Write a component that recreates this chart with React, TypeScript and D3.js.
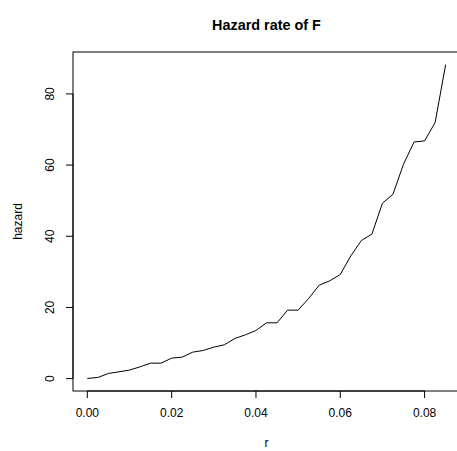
import React from "react";
import * as d3 from "d3";

const rValues = [
  0, 0.0025, 0.005, 0.0075, 0.01, 0.0125, 0.015, 0.0175, 0.02, 0.0225,
  0.025, 0.0275, 0.03, 0.0325, 0.035, 0.0375, 0.04, 0.0425, 0.045, 0.0475,
  0.05, 0.0525, 0.055, 0.0575, 0.06, 0.0625, 0.065, 0.0675, 0.07, 0.0725,
  0.075, 0.0775, 0.08, 0.0825, 0.085,
];
const hazardValues = [
  0.05, 0.33, 1.45, 1.92, 2.39, 3.32, 4.35, 4.35, 5.76, 6.04,
  7.44, 7.91, 8.85, 9.5, 11.28, 12.31, 13.53, 15.68, 15.68, 19.24,
  19.24, 22.52, 26.26, 27.48, 29.26, 34.5, 38.8, 40.6, 49.3, 51.8,
  60.25, 66.5, 66.8, 71.96, 88.25,
];
const xTicks = [0, 0.02, 0.04, 0.06, 0.08];
const yTicks = [0, 20, 40, 60, 80];
const title = "Hazard rate of F";
const xLabel = "r";
const yLabel = "hazard";

export default function App() {
  const W = 457, H = 451;
  const left = 73, right = 460, top = 52, bottom = 391;
  const xMin = d3.min(rValues)!, xMax = d3.max(rValues)!;
  const yMin = d3.min(hazardValues)!, yMax = d3.max(hazardValues)!;
  const xPad = (xMax - xMin) * 0.04;
  const yPad = (yMax - yMin) * 0.04;
  const x = d3.scaleLinear().domain([xMin - xPad, xMax + xPad]).range([left, right]);
  const y = d3.scaleLinear().domain([yMin - yPad, yMax + yPad]).range([bottom, top]);
  const line = d3
    .line<number>()
    .x((_, i) => x(rValues[i]))
    .y((d) => y(d));
  const font = "Liberation Sans, Arial, Helvetica, sans-serif";
  const fmtX = d3.format(".2f");
  return (
    <svg
      width={W}
      height={H}
      style={{ position: "absolute", left: 0, top: 0, background: "#fff" }}
      fontFamily={font}
    >
      <rect x={0} y={0} width={W} height={H} fill="#fff" />
      <rect x={left} y={top} width={right - left} height={bottom - top} fill="none" stroke="#000" strokeWidth={1} />
      <path d={line(hazardValues) ?? ""} fill="none" stroke="#000" strokeWidth={1} />
      {/* x axis */}
      <line x1={x(xTicks[0])} x2={x(xTicks[xTicks.length - 1])} y1={bottom} y2={bottom} stroke="#000" />
      {xTicks.map((t) => (
        <g key={"x" + t}>
          <line x1={x(t)} x2={x(t)} y1={bottom} y2={bottom + 7} stroke="#000" />
          <text x={x(t)} y={bottom + 26} fontSize={12} textAnchor="middle" fill="#000">
            {fmtX(t)}
          </text>
        </g>
      ))}
      {/* y axis */}
      <line x1={left} x2={left} y1={y(yTicks[0])} y2={y(yTicks[yTicks.length - 1])} stroke="#000" />
      {yTicks.map((t) => (
        <g key={"y" + t}>
          <line x1={left} x2={left - 7} y1={y(t)} y2={y(t)} stroke="#000" />
          <text
            transform={`translate(${left - 19},${y(t)}) rotate(-90)`}
            fontSize={12}
            textAnchor="middle"
            fill="#000"
          >
            {t}
          </text>
        </g>
      ))}
      <text x={(left + right) / 2} y={30} fontSize={14.4} fontWeight="bold" textAnchor="middle" fill="#000">
        {title}
      </text>
      <text x={(left + right) / 2} y={447} fontSize={12} textAnchor="middle" fill="#000">
        {xLabel}
      </text>
      <text
        transform={`translate(${22},${(top + bottom) / 2}) rotate(-90)`}
        fontSize={12}
        textAnchor="middle"
        fill="#000"
      >
        {yLabel}
      </text>
    </svg>
  );
}
